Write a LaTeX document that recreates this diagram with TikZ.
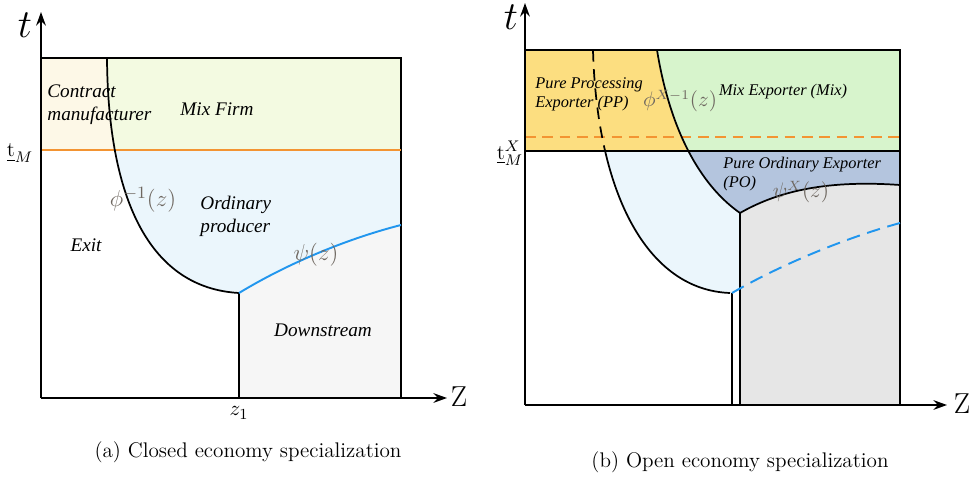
\documentclass[tikz,border=0pt]{standalone}
\usepackage{fontspec}
\newfontfamily\labelfont{Liberation Serif}
\usetikzlibrary{arrows.meta}

\definecolor{cream}{HTML}{FDF8E7}
\definecolor{mixgreen}{HTML}{F3FAE1}
\definecolor{ordblue}{HTML}{EBF6FC}
\definecolor{downgray}{HTML}{F6F6F6}
\definecolor{ppyellow}{HTML}{FCDE80}
\definecolor{mixxgreen}{HTML}{D7F4CC}
\definecolor{poblue}{HTML}{B4C5DE}
\definecolor{dsgray}{HTML}{E6E6E6}
\definecolor{tmorange}{HTML}{F39432}
\definecolor{psiblue}{HTML}{2196EE}
\definecolor{labelgray}{HTML}{6E6760}

\begin{document}
\begin{tikzpicture}[x=0.52pt,y=-0.52pt,
    axis/.style={line width=1.1pt,-{Stealth[length=7pt,width=5pt]}},
    box/.style={line width=0.9pt},
    region/.style={font=\labelfont\fontsize{10}{12}\selectfont\itshape,align=left,inner sep=0pt},
    smallregion/.style={region,font=\labelfont\fontsize{8.5}{10}\selectfont\itshape},
    curvelabel/.style={text=labelgray,font=\fontsize{13}{15}\selectfont,inner sep=0pt},
    smallcurvelabel/.style={curvelabel,font=\fontsize{10.5}{12}\selectfont},
    plain/.style={font=\fontsize{11}{13}\selectfont,inner sep=1pt},
    axislabel/.style={font=\fontsize{20}{24}\selectfont,inner sep=0pt}]
    \useasboundingbox (0,0) rectangle (970,480);

    % (a) closed economy
    \fill[mixgreen] (41,58) rectangle (401,150);
    \begin{scope}
        \clip (41,58) rectangle (401,150);
        \fill[cream] (41,58) -- (107,58) .. controls (108,200) and (150,288) .. (239,293) -- (41,293) -- cycle;
    \end{scope}
    \begin{scope}
        \clip (41,150) rectangle (401,398);
        \fill[ordblue] (107,58) .. controls (108,200) and (150,288) .. (239,293)
            .. controls (290,262) and (350,238) .. (401,225) -- (401,58) -- cycle;
    \end{scope}
    \fill[downgray] (239,293) .. controls (290,262) and (350,238) .. (401,225) -- (401,398) -- (239,398) -- cycle;

    \draw[box] (41,58) -- (401,58) -- (401,398);
    \draw[tmorange,line width=1pt] (41,150) -- (401,150);
    \draw[box] (107,58) .. controls (108,200) and (150,288) .. (239,293) -- (239,398);
    \draw[psiblue,line width=1pt] (239,293) .. controls (290,262) and (350,238) .. (401,225);
    \draw[axis] (41,398) -- (447,398);
    \draw[axis] (41,398) -- (41,12);

    \node[region,anchor=west] (contract) at (47,105) {Contract\\manufacturer};
    \node[region] (mixfirm) at (217,109) {Mix Firm};
    \node[region,anchor=west] (ordinary) at (200,216) {Ordinary\\producer};
    \node[region] (exit) at (86,245) {Exit};
    \node[region] (downstream) at (323,330) {Downstream};
    \node[curvelabel] (phiinv) at (143,200) {$\phi^{-1}(z)$};
    \node[curvelabel] (psi) at (316,255) {$\psi(z)$};
    \node[plain] (zone) at (239,413) {$z_1$};
    \node[plain] (tm) at (20,153) {$\underline{\mathrm{t}}_M$};
    \node[axislabel] (taxa) at (25,25) {$t$};
    \node[font=\fontsize{15}{18}\selectfont,inner sep=0pt] (zaxa) at (459,397) {Z};
    \node[plain] (capa) at (248,452) {(a) Closed economy specialization};

    % (b) open economy
    \fill[mixxgreen] (525,50) rectangle (900,151);
    \begin{scope}
        \clip (525,50) rectangle (900,151);
        \fill[ppyellow] (525,50) -- (657,50) .. controls (670,130) and (700,185) .. (740,213) -- (525,213) -- cycle;
    \end{scope}
    \begin{scope}
        \clip (525,151) rectangle (900,405);
        \fill[ordblue] (593,50) .. controls (597,195) and (648,290) .. (730,293) -- (740,290) -- (740,213)
            .. controls (700,185) and (670,130) .. (657,50) -- cycle;
        \fill[poblue] (657,50) .. controls (670,130) and (700,185) .. (740,213)
            .. controls (780,190) and (830,180) .. (900,185) -- (900,50) -- cycle;
    \end{scope}
    \fill[dsgray] (740,213) .. controls (780,190) and (830,180) .. (900,185) -- (900,405) -- (740,405) -- cycle;

    \draw[box] (525,50) -- (900,50) -- (900,405);
    \draw[box] (525,151) -- (900,151);
    \draw[tmorange,line width=1pt,dash pattern=on 5.5pt off 3.5pt] (525,137) -- (900,137);
    \begin{scope}
        \clip (525,50) rectangle (900,151);
        \draw[box,dash pattern=on 6pt off 4pt] (593,50) .. controls (597,195) and (648,290) .. (730,293);
    \end{scope}
    \begin{scope}
        \clip (525,151) rectangle (900,405);
        \draw[box] (593,50) .. controls (597,195) and (648,290) .. (730,293);
    \end{scope}
    \draw[box] (657,50) .. controls (670,130) and (700,185) .. (740,213)
        .. controls (780,190) and (830,180) .. (900,185);
    \draw[box] (740,213) -- (740,405);
    \draw[box] (732,293) -- (732,405);
    \draw[psiblue,line width=1pt,dash pattern=on 7pt off 4pt] (732,293) .. controls (780,265) and (845,238) .. (900,223);
    \draw[axis] (525,405) -- (947,405);
    \draw[axis] (525,405) -- (525,3);

    \node[smallregion,anchor=west] (pp) at (535,94) {Pure Processing\\Exporter (PP)};
    \node[smallregion] (mixexp) at (783,92) {Mix Exporter (Mix)};
    \node[smallregion,anchor=west] (po) at (723,174) {Pure Ordinary Exporter\\(PO)};
    \node[smallcurvelabel] (phixinv) at (680,101) {$\phi^{X-1}(z)$};
    \node[smallcurvelabel] (psix) at (801,192) {$\psi^{X}(z)$};
    \node[plain,inner sep=0pt] (tmx) at (510,153) {$\underline{\mathrm{t}}_M^X$};
    \node[axislabel] (taxb) at (511,17) {$t$};
    \node[font=\fontsize{15}{18}\selectfont,inner sep=0pt] (zaxb) at (962,404) {Z};
    \node[plain] (capb) at (740,462) {(b) Open economy specialization};
\end{tikzpicture}
\end{document}
